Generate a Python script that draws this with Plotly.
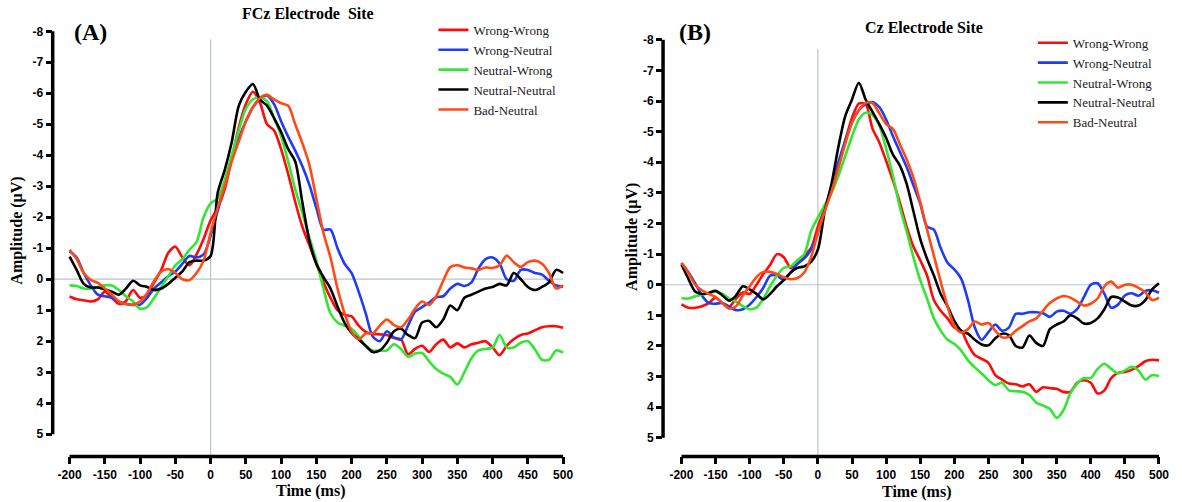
import plotly.graph_objects as go

# ---------------- data ----------------
time_ms = list(range(-200, 501, 10))
series_names = ["Wrong-Wrong", "Wrong-Neutral", "Neutral-Wrong", "Neutral-Neutral", "Bad-Neutral"]
colors = ["#FF0A0A", "#1E3CF5", "#33E633", "#000000", "#FF4A14"]

# Panel A: FCz
fcz_wrong_wrong = [0.56, 0.65, 0.68, 0.72, 0.65, 0.4, 0.6, 0.8, 0.7, 0.35, 0.6, 0.5, 0.1, -0.3, -0.85, -1.05, -0.7, -0.45, -0.8, -1.3, -1.9,
                   -2.3, -2.9, -3.9, -4.9, -5.65, -6.05, -5.7, -5.0, -4.8, -4.2, -3.4, -2.5, -1.7, -1.1, -0.5, 0.1, 0.6, 1.0, 1.15, 1.2,
                   1.5, 1.7, 1.77, 1.78, 1.8, 1.9, 1.94, 2.42, 2.25, 2.15, 2.35, 2.1, 1.95, 2.2, 2.07, 2.2, 2.1, 2.05, 2.0, 2.2,
                   2.45, 2.15, 1.94, 1.8, 1.75, 1.65, 1.55, 1.52, 1.52, 1.57]
fcz_wrong_neutral = [-0.9, -0.7, -0.2, 0.2, 0.5, 0.55, 0.6, 0.72, 0.8, 0.83, 0.82, 0.6, 0.3, 0.1, -0.1, -0.25, -0.5, -0.75, -0.7, -0.8, -1.4,
                     -2.2, -3.1, -3.9, -4.55, -5.1, -5.55, -5.82, -5.93, -5.65, -5.1, -4.6, -4.15, -3.65, -3.05, -2.3, -1.6, -1.6, -1.0, -0.5, -0.2, 0.4, 1.1,
                     1.85, 2.0, 1.68, 1.88, 1.95, 1.5, 1.05, 0.9, 0.75, 0.58, 0.55, 0.3, 0.15, 0.22, 0.1, -0.35, -0.65, -0.7, -0.5, 0.0,
                     0.05, -0.3, -0.3, -0.2, -0.15, 0.05, 0.2, 0.24]
fcz_neutral_wrong = [0.2, 0.22, 0.3, 0.3, 0.25, 0.2, 0.2, 0.35, 0.55, 0.72, 0.95, 0.9, 0.6, 0.25, -0.1, -0.45, -0.65, -0.95, -1.2, -2.0, -2.45,
                     -2.6, -3.2, -4.0, -4.8, -5.5, -5.8, -5.86, -5.75, -5.2, -4.62, -3.8, -2.9, -2.15, -1.35, -0.6, 0.3, 1.1,
                     1.4, 1.5, 1.6, 1.85, 2.15, 2.3, 2.3, 2.3, 2.1, 2.25, 2.5, 2.4, 2.38, 2.65, 2.9, 3.05, 3.15, 3.4, 3.0, 2.55,
                     2.3, 2.25, 2.2, 1.8, 2.2, 2.2, 2.05, 2.0, 2.26, 2.6, 2.6, 2.3, 2.37]
fcz_neutral_neutral = [-0.73, -0.3, 0.15, 0.27, 0.27, 0.33, 0.4, 0.5, 0.3, 0.05, 0.2, 0.25, 0.35, 0.3, 0.15, -0.05, -0.25, -0.55, -0.6, -0.6, -0.75,
                       -2.78, -3.52, -4.43, -5.6, -6.05, -6.3, -5.8, -5.6, -5.2, -4.75, -4.2, -3.8, -2.5, -1.25, -0.5, -0.07, 0.3, 0.88,
                       1.41, 1.73, 1.94, 2.15, 2.35, 2.3, 2.05, 1.68, 1.6, 1.8, 1.9, 1.4, 1.35, 1.55, 1.3, 0.85, 1.0,
                       0.6, 0.5, 0.4, 0.3, 0.25, 0.15, 0.2, -0.2, 0.0, 0.25, 0.35, 0.25, 0.1, -0.3, -0.2]
fcz_bad_neutral = [-0.95, -0.65, -0.2, 0.02, 0.12, 0.3, 0.5, 0.72, 0.8, 0.82, 0.72, 0.45, 0.05, -0.25, -0.32, -0.2, 0.0, 0.03, -0.2, -0.6, -1.5,
                   -2.3, -3.0, -3.8, -4.45, -5.1, -5.55, -5.85, -5.95, -5.8, -5.68, -5.6, -5.0, -4.4, -3.7, -2.6, -1.5, -0.7, 0.3, 1.1,
                   1.7, 1.94, 1.75, 1.75, 1.5, 1.3, 1.48, 1.55, 1.3, 0.95, 0.72, 0.83, 0.55, 0.05, -0.39, -0.45, -0.38, -0.35, -0.3, -0.38,
                   -0.36, -0.45, -0.76, -0.55, -0.4, -0.55, -0.6, -0.5, -0.2, 0.3, 0.2]

# Panel B: Cz
cz_wrong_wrong = [0.64, 0.75, 0.75, 0.7, 0.6, 0.42, 0.6, 0.72, 0.45, 0.25, 0.3, 0.0, -0.35, -0.65, -1.0, -0.9, -0.55, -0.7, -0.95, -1.2, -1.9,
                  -2.5, -3.15, -3.9, -4.7, -5.45, -5.92, -5.9, -5.1, -4.65, -4.05, -3.4, -2.7, -1.9, -1.25, -0.8, -0.3, 0.5, 0.85, 1.1,
                  1.4, 1.5, 1.95, 2.3, 2.42, 2.55, 2.95, 3.1, 3.23, 3.25, 3.32, 3.25, 3.5, 3.35, 3.38, 3.4, 3.5, 3.5, 3.2, 3.12,
                  3.2, 3.55, 3.45, 3.05, 2.88, 2.85, 2.78, 2.66, 2.5, 2.45, 2.47]
cz_wrong_neutral = [-0.71, -0.42, -0.05, 0.35, 0.6, 0.62, 0.6, 0.72, 0.83, 0.8, 0.65, 0.4, 0.1, -0.3, -0.3, -0.15, -0.4, -0.68, -0.86, -1.15, -1.7,
                    -2.45, -3.2, -4.0, -4.7, -5.3, -5.7, -5.9, -5.97, -5.8, -5.4, -4.85, -4.35, -3.85, -3.25, -2.65, -1.9, -1.8, -1.2, -0.72, -0.5, -0.2, 0.5,
                    1.4, 1.8, 1.55, 1.3, 1.5, 1.4, 0.95, 0.95, 0.9, 0.9, 0.93, 1.05, 0.88, 0.85, 0.95, 0.8, 0.4, 0.0,
                    -0.05, 0.3, 0.75, 0.65, 0.35, 0.28, 0.36, 0.2, 0.18, 0.26]
cz_neutral_wrong = [0.44, 0.45, 0.38, 0.33, 0.27, 0.22, 0.3, 0.45, 0.55, 0.7, 0.8, 0.75, 0.45, 0.05, -0.3, -0.55, -0.6, -0.8, -1.0, -1.75, -2.2,
                    -2.6, -3.0, -3.55, -4.2, -4.85, -5.4, -5.62, -5.55, -5.2, -4.45, -3.55, -2.55, -1.75, -0.9, -0.15, 0.45, 1.1,
                    1.5, 1.8, 1.93, 2.15, 2.47, 2.7, 2.9, 3.12, 3.28, 3.2, 3.45, 3.48, 3.5, 3.6, 3.85, 3.95, 4.05, 4.35, 4.1, 3.55,
                    3.23, 3.05, 3.05, 2.75, 2.58, 2.75, 2.9, 2.8, 2.68, 2.8, 3.1, 2.95, 2.99]
cz_neutral_neutral = [-0.66, -0.2, 0.22, 0.3, 0.27, 0.2, 0.35, 0.52, 0.35, 0.05, 0.15, 0.3, 0.48, 0.3, 0.05, -0.15, -0.4, -0.55, -0.6, -0.75, -1.15,
                      -2.4, -3.3, -4.5, -5.5, -6.05, -6.6, -6.05, -5.65, -5.25, -4.8, -4.25, -3.9, -3.3, -2.4, -1.5, -0.85, -0.3, 0.3, 0.7,
                      1.18, 1.5, 1.6, 1.8, 1.95, 1.98, 1.75, 1.6, 1.65, 2.0, 2.05, 1.66, 1.9, 2.0, 1.45, 1.3, 1.2, 1.0, 1.1, 1.27,
                      1.25, 1.1, 0.8, 0.4, 0.42, 0.55, 0.68, 0.68, 0.5, 0.15, -0.05]
cz_bad_neutral = [-0.71, -0.4, 0.0, 0.18, 0.3, 0.4, 0.6, 0.78, 0.7, 0.35, 0.05, -0.25, -0.42, -0.42, -0.35, -0.25, -0.18, -0.22, -0.4, -0.9, -1.7,
                  -2.4, -3.05, -3.8, -4.6, -5.3, -5.7, -5.94, -5.93, -5.6, -5.25, -5.09, -4.6, -4.1, -3.5, -2.7, -1.8, -0.95, -0.1, 0.7,
                  1.34, 1.56, 1.45, 1.2, 1.3, 1.25, 1.5, 1.72, 1.7, 1.5, 1.35, 1.2, 1.1, 0.85, 0.6, 0.45, 0.37, 0.42, 0.55, 0.68,
                  0.62, 0.45, 0.05, -0.1, 0.1, 0.0, 0.0, 0.1, 0.25, 0.5, 0.42]

fcz_series = [fcz_wrong_wrong, fcz_wrong_neutral, fcz_neutral_wrong, fcz_neutral_neutral, fcz_bad_neutral]
cz_series = [cz_wrong_wrong, cz_wrong_neutral, cz_neutral_wrong, cz_neutral_neutral, cz_bad_neutral]

x_tick_vals = [-200, -150, -100, -50, 0, 50, 100, 150, 200, 250, 300, 350, 400, 450, 500]
x_tick_text = ["-200", "-150", "-100", "-50", "0", "50", "100", "150", "200", "250", "300", "350", "400", "450", "500"]
y_tick_vals = [-8, -7, -6, -5, -4, -3, -2, -1, 0, 1, 2, 3, 4, 5]
y_tick_text = ["-8", "-7", "-6", "-5", "-4", "-3", "-2", "-1", "0", "1", "2", "3", "4", "5"]

# ---------------- figure ----------------
W, H = 1182, 502
fig = go.Figure()

for i, name in enumerate(series_names):
    fig.add_trace(go.Scatter(x=time_ms, y=fcz_series[i], mode="lines", name=name,
                             line=dict(color=colors[i], width=2.6, shape="spline", smoothing=0.8),
                             xaxis="x", yaxis="y", legend="legend"))
for i, name in enumerate(series_names):
    fig.add_trace(go.Scatter(x=time_ms, y=cz_series[i], mode="lines", name=name,
                             line=dict(color=colors[i], width=2.6, shape="spline", smoothing=0.8),
                             xaxis="x2", yaxis="y2", legend="legend2"))

def px(v):
    return v / W

def py(v):
    return 1 - v / H

tick_font = dict(family="Liberation Sans", size=12, color="black", weight="bold")
common_x = dict(tickvals=x_tick_vals, ticktext=x_tick_text, ticks="outside", ticklen=7, tickwidth=3,
                tickcolor="black", showline=False, showgrid=False, zeroline=False, tickfont=tick_font)
common_y = dict(tickvals=y_tick_vals, ticktext=y_tick_text, ticks="outside", ticklen=6, tickwidth=3,
                tickcolor="black", showline=False, showgrid=False, zeroline=False, tickfont=tick_font)

xA_range = [-224, 505]
xB_range = [-227, 506]
yA_range = [5.72, -8.05]
yB_range = [5.61, -8.33]
plot_top, plot_bottom = 25, 456

legend_font = dict(family="Liberation Serif", size=13, color="#222")
fig.update_layout(
    width=W, height=H, margin=dict(l=0, r=0, t=0, b=0),
    paper_bgcolor="white", plot_bgcolor="white",
    xaxis=dict(domain=[px(53), px(570)], range=xA_range, anchor="y", **common_x),
    yaxis=dict(domain=[py(plot_bottom), py(plot_top)], range=yA_range, anchor="x", **common_y),
    xaxis2=dict(domain=[px(667), px(1170)], range=xB_range, anchor="y2", **common_x),
    yaxis2=dict(domain=[py(plot_bottom), py(plot_top)], range=yB_range, anchor="x2", **common_y),
    legend=dict(x=px(436), y=py(10), xanchor="left", yanchor="top", bgcolor="rgba(0,0,0,0)",
                font=legend_font, itemwidth=30, tracegroupgap=0),
    legend2=dict(x=px(1039), y=py(23), xanchor="left", yanchor="top", bgcolor="rgba(0,0,0,0)",
                 font=legend_font, itemwidth=30, tracegroupgap=0),
    showlegend=True,
)

shapes = []
ref_color = "#B8C4CE"
for xr, yr, xrng, vtop in (("x", "y", xA_range, 0.977), ("x2", "y2", xB_range, 0.955)):
    # zero reference lines
    shapes.append(dict(type="line", xref=xr, yref=yr, x0=xrng[0], x1=500, y0=0, y1=0,
                       line=dict(color=ref_color, width=1.2), layer="below"))
    shapes.append(dict(type="line", xref=xr, yref=yr + " domain", x0=0, x1=0, y0=0, y1=vtop,
                       line=dict(color=ref_color, width=1.2), layer="below"))
    # axis lines
    shapes.append(dict(type="line", xref=xr + " domain", yref=yr, x0=0, x1=0, y0=y_tick_vals[0], y1=y_tick_vals[-1],
                       line=dict(color="black", width=3.5)))
    shapes.append(dict(type="line", xref=xr, yref=yr + " domain", x0=x_tick_vals[0], x1=x_tick_vals[-1], y0=0, y1=0,
                       line=dict(color="black", width=3.5)))
fig.update_layout(shapes=shapes)

serif_b = dict(family="Liberation Serif", color="black", weight="bold")
ann = [
    dict(text="FCz Electrode  Site", x=px(310), y=py(9), size=16),
    dict(text="Cz Electrode Site", x=px(930), y=py(23), size=16),
    dict(text="(A)", x=px(91), y=py(27), size=24),
    dict(text="(B)", x=px(699), y=py(27), size=24),
    dict(text="Time (ms)", x=px(312), y=py(491), size=16),
    dict(text="Time (ms)", x=px(922), y=py(492), size=16),
]
annotations = []
for a in ann:
    annotations.append(dict(text=a["text"], x=a["x"], y=a["y"], xref="paper", yref="paper",
                            showarrow=False, xanchor="center", yanchor="middle",
                            font=dict(size=a["size"], **serif_b)))
for xpos, ypos in ((17, 228), (635, 234)):
    annotations.append(dict(text="Amplitude (µV)", x=px(xpos), y=py(ypos), xref="paper", yref="paper",
                            showarrow=False, textangle=-90, xanchor="center", yanchor="middle",
                            font=dict(size=16, **serif_b)))
fig.update_layout(annotations=annotations)

fig.write_html("out.html", config={"displayModeBar": False},
               post_script="document.body.style.margin='0';document.body.style.overflow='hidden';")
